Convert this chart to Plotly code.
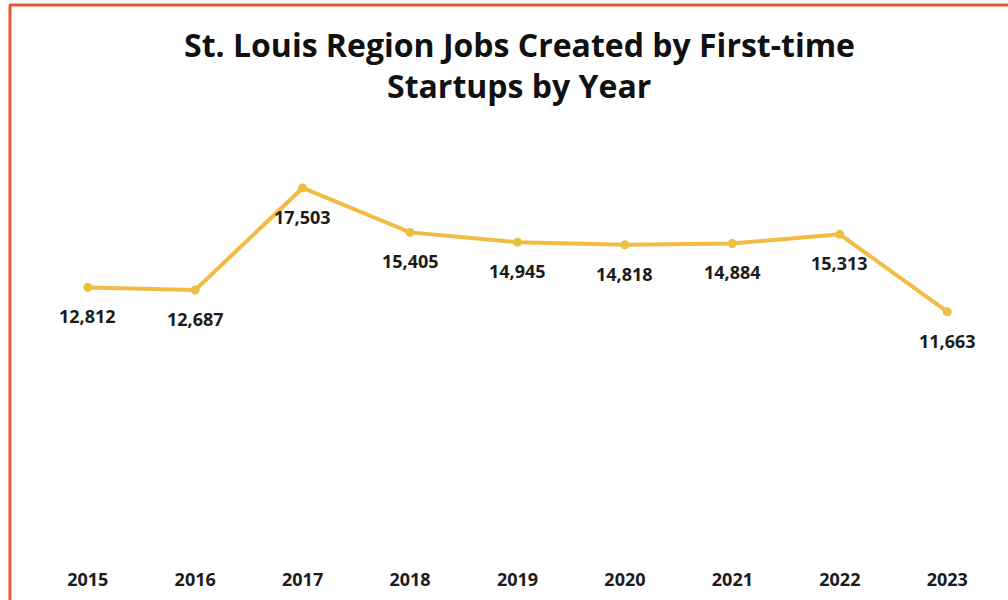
import plotly.graph_objects as go

years = ["2015", "2016", "2017", "2018", "2019", "2020", "2021", "2022", "2023"]
jobs = [12812, 12687, 17503, 15405, 14945, 14818, 14884, 15313, 11663]
labels = ["12,812", "12,687", "17,503", "15,405", "14,945", "14,818", "14,884", "15,313", "11,663"]
title_lines = ["St. Louis Region Jobs Created by First-time", "Startups by Year"]

W, H = 1008, 600
LINE_COLOR = "#F2BC42"
MARKER_COLOR = "#E9C043"
BORDER = "#E8592B"
FONT = "Open Sans"
TEXT = "#1c1c1c"

fig = go.Figure()
fig.add_trace(go.Scatter(
    x=years, y=jobs, mode="lines+markers",
    line=dict(color=LINE_COLOR, width=4),
    marker=dict(color=MARKER_COLOR, size=9),
    hoverinfo="x+y", showlegend=False,
))

# value labels below each point (category index positions)
for i, (v, t) in enumerate(zip(jobs, labels)):
    fig.add_annotation(x=i, y=v, text=t, showarrow=False, yshift=-29,
                       font=dict(family=FONT, size=18, color=TEXT, weight="bold"))

# two-line title
for i, line in enumerate(title_lines):
    fig.add_annotation(xref="paper", yref="paper", x=519 / W, y=1 - (44 + 42 * i) / H,
                       xanchor="center", yanchor="middle", showarrow=False, text=line,
                       font=dict(family=FONT, size=32, color="#111111", weight="bold"))

# chart border (left and top edges)
fig.add_shape(type="line", xref="paper", yref="paper",
              x0=10 / W, x1=10 / W, y0=0, y1=1 - 5 / H,
              line=dict(color=BORDER, width=3))
fig.add_shape(type="line", xref="paper", yref="paper",
              x0=9 / W, x1=1, y0=1 - 5 / H, y1=1 - 5 / H,
              line=dict(color=BORDER, width=3))

fig.update_layout(
    width=W, height=H,
    margin=dict(l=0, r=0, t=0, b=0),
    paper_bgcolor="white", plot_bgcolor="white",
    xaxis=dict(type="category", categoryorder="array", categoryarray=years,
               range=[-0.5, len(years) - 0.5], domain=[34 / W, 1001 / W],
               showgrid=False, zeroline=False, showline=False, ticks="",
               ticklabelstandoff=8,
               tickfont=dict(family=FONT, size=18, color=TEXT, weight="bold")),
    yaxis=dict(domain=[41 / H, 465 / H], range=[0, 20000], visible=False),
)

fig.write_html("out.html")
